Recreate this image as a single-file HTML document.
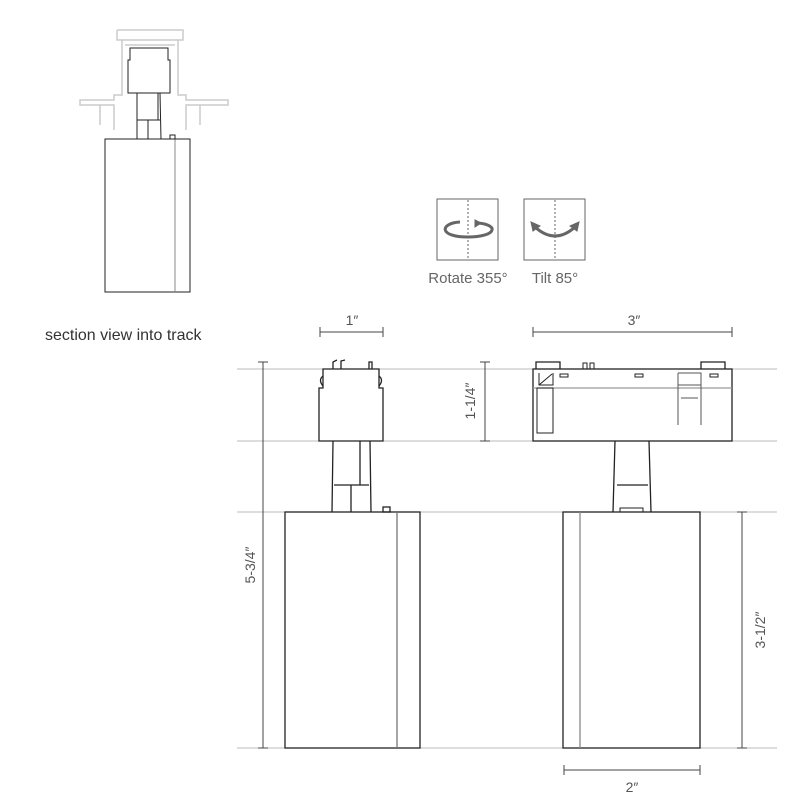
<!DOCTYPE html>
<html><head><style>body{margin:0;background:#fff}svg{display:block}text{font-family:"Liberation Sans",sans-serif;fill:#555}</style></head><body>
<svg width="800" height="800" viewBox="0 0 800 800" xmlns="http://www.w3.org/2000/svg">
<!-- guides -->
<g stroke="#bbb" stroke-width="1">
<line x1="237" y1="369" x2="777" y2="369"/><line x1="237" y1="441" x2="777" y2="441"/>
<line x1="237" y1="512" x2="777" y2="512"/><line x1="237" y1="748" x2="777" y2="748"/>
</g>
<!-- dimensions -->
<g stroke="#444" stroke-width="1" fill="none">
<path d="M263 362V748M258 362H268M258 748H268"/>
<path d="M485 362V441M480 362H490M480 441H490"/>
<path d="M742 512V748M737 512H747M737 748H747"/>
<path d="M320 332H383M320 327V337M383 327V337"/>
<path d="M533 332H732M533 327V337M732 327V337"/>
<path d="M564 770H700M564 765V775M700 765V775"/>
</g>
<g font-size="14">
<text x="352" y="325" text-anchor="middle">1″</text>
<text x="634" y="325" text-anchor="middle">3″</text>
<text x="632" y="792" text-anchor="middle">2″</text>
<text transform="translate(255 565) rotate(-90)" text-anchor="middle">5-3/4″</text>
<text transform="translate(475 401) rotate(-90)" text-anchor="middle">1-1/4″</text>
<text transform="translate(765 630) rotate(-90)" text-anchor="middle">3-1/2″</text>
<text x="45" y="340" font-size="16" style="fill:#333">section view into track</text>
<text x="468" y="283" text-anchor="middle" font-size="15" style="fill:#666">Rotate 355°</text>
<text x="555" y="283" text-anchor="middle" font-size="15" style="fill:#666">Tilt 85°</text>
</g>
<!-- icons -->
<g stroke="#666" fill="none">
<rect x="437" y="199" width="61" height="61"/><rect x="524" y="199" width="61" height="61"/>
<line x1="468" y1="200" x2="468" y2="260" stroke-dasharray="2 2"/>
<line x1="555" y1="200" x2="555" y2="260" stroke-dasharray="2 2"/>
<path d="M478 223 C 500 225 496 237 468 237 C 438 237 440 223 460 222" stroke-width="3"/>
<path d="M475 220 L481 223 L475 227Z" fill="#666" stroke-width="1"/>
<path d="M535 227 Q555 245 575 227" stroke-width="3"/>
<path d="M531 222 L540 226 L533 231Z M579 222 L570 226 L577 231Z" fill="#666" stroke-width="1"/>
</g>
<!-- top-left section -->
<g stroke="#ccc" fill="none" stroke-width="1.5">
<path d="M117 30H183V40H178V95H186V100H228V105H186V130M117 30V40H122V95H114V100H80V105H114V130"/>
<path d="M122 40H178M125 45H175"/>
<path d="M100 105V125M200 105V125"/>
</g>
<g stroke="#222" fill="none" stroke-width="1">
<path d="M130 48H168V60H170V93H128V60H130Z"/>
<path d="M137 93L137 139M160 93L161 139M137 120H160M148 120V139M158 93V120"/>
<rect x="105" y="139" width="85" height="153"/><line x1="175" y1="139" x2="175" y2="292" stroke="#888"/>
<rect x="170" y="135" width="5" height="4"/>
</g>
<!-- main left -->
<g stroke="#222" fill="none" stroke-width="1.3">
<path d="M323 369H379V388H383V441H319V388H323Z"/>
<path d="M333 441L332 512M370 441L371 512M360 441V485M334 485H369M351 485V512"/>
<rect x="285" y="512" width="135" height="236"/>
<line x1="397" y1="512" x2="397" y2="748" stroke="#777"/>
<rect x="383" y="507" width="7" height="5"/>
<path d="M333 369V362L337 360M341 369V361L345 360M369 369V362H372V369"/>
<path d="M323 376Q318 380 323 386M379 376Q384 380 379 386"/>
</g>
<!-- main right -->
<g stroke="#222" fill="none" stroke-width="1.3">
<rect x="533" y="369" width="199" height="72"/>
<path d="M536 369V362H560V369M701 369V362H725V369"/>
<line x1="533" y1="388" x2="732" y2="388" stroke="#999"/>
<path d="M539 373V385H553V373M539 385L552 374" stroke-width="1"/>
<path d="M537 388H553V433H537Z" stroke-width="1"/>
<rect x="560" y="374" width="8" height="3" stroke-width="1"/>
<rect x="635" y="374" width="8" height="3" stroke-width="1"/>
<rect x="710" y="374" width="8" height="3" stroke-width="1"/>
<path d="M678 373H701V425M678 373V425M678 385H701M681 398H698" stroke-width="1" stroke="#555"/>
<path d="M583 369V363H587V369M590 369V363H594V369" stroke-width="1"/>
<path d="M615 441L613 512M649 441L651 512M617 485H648"/>
<rect x="563" y="512" width="137" height="236"/>
<line x1="580" y1="512" x2="580" y2="748" stroke="#888"/>
<rect x="620" y="508" width="23" height="4" stroke-width="1"/>
</g>
</svg>
</body></html>
